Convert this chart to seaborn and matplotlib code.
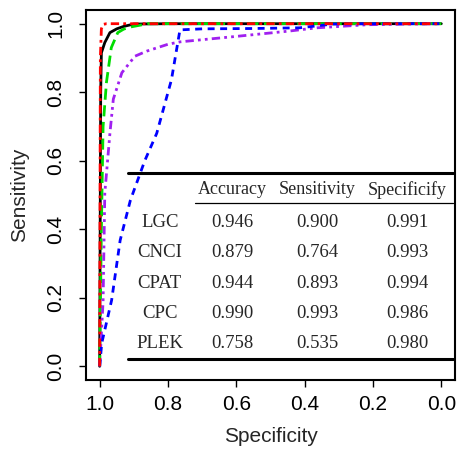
import matplotlib
matplotlib.use("Agg")
import matplotlib.pyplot as plt
import seaborn as sns

# ----------------------------------------
# ROC curves (specificity, sensitivity)
# ----------------------------------------
lgc_spec = [1.0, 0.997, 0.995, 0.985, 0.97, 0.95, 0.93, 0.90, 0.80, 0.5, 0.0]
lgc_sens = [0.0, 0.80, 0.915, 0.945, 0.974, 0.985, 0.992, 0.999, 1.0, 1.0, 1.0]

cpc_spec = [1.0, 0.998, 0.995, 0.99, 0.98, 0.9, 0.5, 0.0]
cpc_sens = [0.0, 0.90, 0.985, 0.998, 1.0, 1.0, 1.0, 1.0]

cpat_spec = [1.0, 0.995, 0.99, 0.98, 0.966, 0.947, 0.93, 0.912, 0.88, 0.86, 0.5, 0.0]
cpat_sens = [0.0, 0.40, 0.70, 0.83, 0.93, 0.974, 0.984, 0.99, 0.996, 1.0, 1.0, 1.0]

cnci_spec = [1.0, 0.99, 0.985, 0.97, 0.96, 0.935, 0.897, 0.862, 0.80, 0.765, 0.61,
             0.45, 0.364, 0.217, 0.10, 0.0]
cnci_sens = [0.0, 0.19, 0.505, 0.68, 0.78, 0.857, 0.905, 0.92, 0.94, 0.947, 0.962,
             0.978, 0.988, 0.997, 0.999, 1.0]

plek_spec = [1.0, 0.994, 0.965, 0.94, 0.91, 0.868, 0.833, 0.79, 0.765, 0.70, 0.55,
             0.415, 0.317, 0.2, 0.0]
plek_sens = [0.0, 0.067, 0.193, 0.368, 0.485, 0.60, 0.68, 0.836, 0.982, 0.985, 0.986,
             0.988, 0.999, 1.0, 1.0]

# ----------------------------------------
# Summary table
# ----------------------------------------
methods = ["LGC", "CNCI", "CPAT", "CPC", "PLEK"]
col_names = ["Accuracy", "Sensitivity", "Specificify"]
accuracy = ["0.946", "0.879", "0.944", "0.990", "0.758"]
sensitivity = ["0.900", "0.764", "0.893", "0.993", "0.535"]
specificity = ["0.991", "0.993", "0.994", "0.986", "0.980"]

sns.set_style("ticks")
plt.rcParams["font.family"] = ["Liberation Sans", "DejaVu Sans"]

fig = plt.figure(figsize=(4.61, 4.51), dpi=100)
ax = fig.add_axes([86 / 461, 71 / 451, 369 / 461, 370 / 451])

curves = [
    (lgc_spec, lgc_sens, "black", "-"),
    (cpat_spec, cpat_sens, "#00dd00", (0, (4, 2))),
    (cnci_spec, cnci_sens, "#a020f0", (0, (3, 1.5, 1, 1.5, 1, 1.5))),
    (plek_spec, plek_sens, "#0000ff", (0, (2.5, 2))),
    (cpc_spec, cpc_sens, "#ff0000", (0, (3, 1.5, 1, 1.5))),
]
for xs, ys, c, ls in curves:
    sns.lineplot(x=xs, y=ys, sort=False, estimator=None, color=c,
                 linestyle=ls, linewidth=2.0, ax=ax)

ax.set_xlim(1.04, -0.04)
ax.set_ylim(-0.04, 1.04)
ax.set_xticks([1.0, 0.8, 0.6, 0.4, 0.2, 0.0])
ax.set_yticks([0.0, 0.2, 0.4, 0.6, 0.8, 1.0])
ax.set_xticklabels(["1.0", "0.8", "0.6", "0.4", "0.2", "0.0"], fontsize=15)
ax.set_yticklabels(["0.0", "0.2", "0.4", "0.6", "0.8", "1.0"], fontsize=15,
                   rotation=90, va="center")
ax.tick_params(axis="x", direction="out", length=5, width=1, pad=6, colors="black")
ax.tick_params(axis="y", direction="out", length=5, width=1, pad=10, colors="black")
ax.set_xlabel("Specificity", fontsize=15, labelpad=9)
ax.set_ylabel("Sensitivity", fontsize=15, labelpad=12)
for s in ax.spines.values():
    s.set_linewidth(1.5)
    s.set_color("black")

# table drawn in data coordinates
ax.plot([0.918, -0.035], [0.564, 0.564], color="black", lw=2.2)
ax.plot([0.721, -0.035], [0.477, 0.477], color="black", lw=0.9)
ax.plot([0.918, -0.035], [0.020, 0.020], color="black", lw=2.2)

col_x = [0.613, 0.364, 0.100]
row_y = [0.421, 0.333, 0.243, 0.155, 0.067]
tfont = dict(family="Liberation Serif", fontsize=13, ha="center", va="center")
for cx, name in zip(col_x, col_names):
    ax.text(cx, 0.515, name, **tfont)
for i, m in enumerate(methods):
    ax.text(0.824, row_y[i], m, fontsize=13.5, family="Liberation Serif",
            ha="center", va="center")
    for cx, vals in zip(col_x, [accuracy, sensitivity, specificity]):
        ax.text(cx, row_y[i], vals[i], fontsize=13.5, family="Liberation Serif",
                ha="center", va="center")

fig.savefig("out.png", dpi=100)
